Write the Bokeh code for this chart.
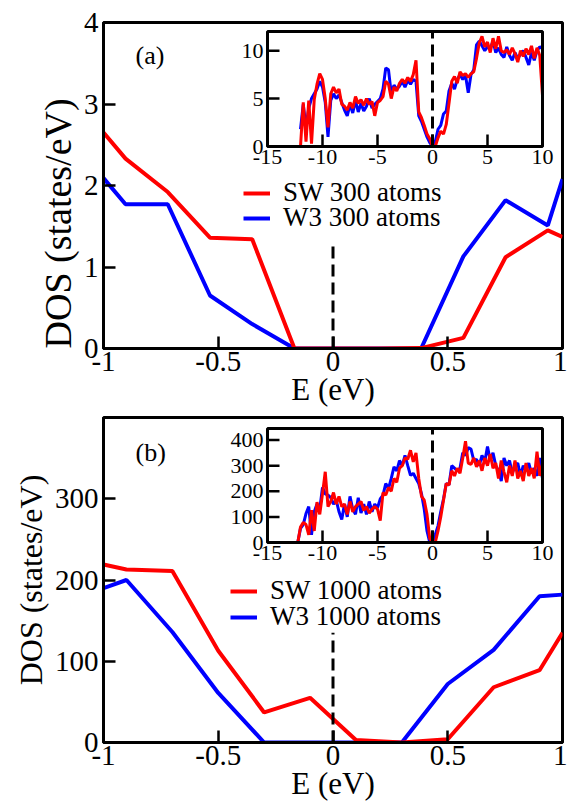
import numpy as np
from bokeh.plotting import figure
from bokeh.models import Range1d, Legend, LegendItem, Label, FixedTicker, Title
from bokeh.layouts import column
from bokeh.embed import file_html
from bokeh.resources import INLINE
from bokeh.core.properties import value

FONT = "Liberation Serif"
RED = "#ff0000"
BLUE = "#0000ff"

# ---------------- data: panel (a) main ----------------
a_energy = [-1.0, -0.904, -0.720, -0.536, -0.352, -0.168, 0.016, 0.200, 0.384, 0.568, 0.752, 0.936, 1.0]
a_sw_dos = [2.65, 2.33, 1.92, 1.36, 1.34, 0.0, 0.0, 0.0, 0.005, 0.13, 1.12, 1.45, 1.37]
a_w3_dos = [2.09, 1.77, 1.77, 0.65, 0.30, 0.0, 0.0, 0.0, 0.0, 1.13, 1.82, 1.51, 2.08]
a_fermi_dos = [0.0, 1.29]

# ---------------- data: panel (b) main ----------------
b_energy = [-1.0, -0.9, -0.7, -0.5, -0.3, -0.1, 0.1, 0.3, 0.5, 0.7, 0.9, 1.0]
b_sw_dos = [219, 213, 211, 113, 37, 55, 3, 0, 4, 68, 89, 135]
b_w3_dos = [190, 200, 136, 61, 0, 0, 0, 0, 72, 114, 180, 182]
b_fermi_dos = [0.0, 135]

fermi_e = [0.0, 0.0]

# ---------------- data: inset (a) ----------------
ia_energy = np.arange(-12.0, 10.001, 0.25)
ia_sw = [0.0, 4.6, 0.5, 4.8, 0.3, 4.9, 6.5, 7.6, 7.0, 5.0,
         2.0, 5.5, 6.2, 5.6, 6.0, 4.4, 4.2, 3.8, 4.6, 4.0,
         5.2, 4.5, 4.9, 4.3, 5.0, 4.4, 4.7, 3.2, 4.6, 4.8,
         5.2, 6.8, 6.5, 5.0, 6.2, 5.8, 6.6, 7.0, 6.6, 7.2,
         6.8, 7.5, 9.0, 3.6, 3.0, 2.2, 1.3, 0.8, 0.0, 0.0,
         0.9, 1.6, 1.3, 2.3, 4.5, 6.8, 7.3, 6.6, 7.8, 7.4,
         7.6, 7.2, 7.6, 7.8, 9.2, 10.8, 11.5, 10.4, 10.9, 9.8,
         11.3, 10.2, 11.5, 10.0, 9.8, 10.1, 9.6, 10.3, 9.7, 8.8,
         10.0, 9.4, 10.2, 9.6, 10.5, 9.2, 10.3, 9.5, 5.3]
ia_w3 = [1.8, 4.4, 2.0, 4.0, 5.0, 5.5, 6.0, 6.8, 6.2, 4.6,
         1.0, 4.8, 5.5, 5.0, 5.4, 4.6, 3.8, 3.2, 4.4, 3.5,
         4.8, 3.6, 4.5, 3.7, 4.2, 5.0, 4.0, 4.4, 4.7, 5.0,
         6.0, 8.2, 8.0, 5.5, 6.4, 6.0, 6.3, 6.8, 6.2, 6.9,
         6.5, 7.0, 6.8, 3.2, 2.6, 1.8, 1.0, 0.4, 0.0, 0.5,
         1.8, 2.2, 3.4, 3.7, 5.8, 6.6, 6.0, 7.0, 7.5, 7.0,
         7.4, 5.6, 7.5, 8.0, 10.6, 11.0, 10.5, 10.0, 10.4, 10.2,
         11.0, 9.8, 10.3, 9.6, 9.3, 10.4, 9.5, 9.0, 9.8, 9.2,
         9.6, 10.0, 9.3, 8.5, 9.8, 9.0, 10.0, 10.4, 10.2]
ia_xlim = [-15, 10]
ia_ylim = [0, 12]
ia_xticks = [-15, -10, -5, 0, 5, 10]
ia_xlabels = ["-15", "-10", "-5", "0", "5", "10"]
ia_yticks = [0, 5, 10]
ia_ylabels = ["0", "5", "10"]

# ---------------- data: inset (b) ----------------
ib_energy = np.arange(-12.25, 10.001, 0.25)
ib_sw = [0, 60, 78, 70, 30, 126, 45, 158, 110, 190,
         276, 140, 160, 195, 150, 180, 140, 150, 110, 160,
         120, 140, 150, 160, 125, 140, 115, 130, 140, 130,
         85, 195, 185, 215, 200, 250, 235, 290, 300, 330,
         325, 360, 315, 350, 250, 180, 165, 110, 15, 0,
         0, 45, 100, 165, 230, 225, 280, 260, 290, 270,
         330, 395, 310, 305, 330, 295, 320, 280, 330, 300,
         345, 290, 310, 250, 320, 275, 235, 300, 260, 320,
         250, 280, 240, 310, 260, 290, 250, 355, 260, 310]
ib_w3 = [0, 55, 70, 113, 140, 30, 120, 150, 130, 215,
         190, 185, 175, 150, 165, 120, 90, 150, 100, 180,
         130, 110, 175, 115, 150, 110, 160, 120, 150, 135,
         170, 185, 230, 210, 250, 295, 280, 320, 300, 340,
         300, 262, 270, 250, 230, 190, 130, 45, 0, 0,
         30, 65, 120, 170, 230, 225, 300, 290, 280, 290,
         350, 340, 370, 365, 320, 325, 300, 340, 315, 375,
         320, 350, 300, 280, 240, 330, 300, 320, 270, 300,
         310, 260, 300, 280, 310, 270, 290, 260, 330, 250]
ib_xlim = [-15, 10]
ib_ylim = [0, 445]
ib_xticks = [-15, -10, -5, 0, 5, 10]
ib_xlabels = ["-15", "-10", "-5", "0", "5", "10"]
ib_yticks = [0, 100, 200, 300, 400]
ib_ylabels = ["0", "100", "200", "300", "400"]

main_xticks = [-1, -0.5, 0, 0.5, 1]
main_xlabels = ["-1", "-0.5", "0", "0.5", "1"]
a_yticks = [0, 1, 2, 3, 4]
b_yticks = [0, 100, 200, 300]

x_title = "E (eV)"
y_title = "DOS (states/eV)"

# ---------------- layout constants ----------------
FRAME_W = 459
LEFT = 103
RIGHT = 5


def base_fig(frame_h, top, bottom, yr, yticks):
    p = figure(frame_width=FRAME_W, frame_height=frame_h,
               x_range=Range1d(-1, 1), y_range=Range1d(*yr),
               output_backend="svg", toolbar_location=None,
               min_border_left=LEFT, min_border_right=RIGHT,
               min_border_top=top, min_border_bottom=bottom)
    p.grid.visible = False
    p.background_fill_color = "white"
    p.border_fill_color = "white"
    p.outline_line_color = "black"
    p.outline_line_width = 3
    p.outline_line_alpha = 1.0
    for ax in (p.xaxis[0], p.yaxis[0]):
        ax.axis_line_width = 3
        ax.axis_line_color = "black"
        ax.major_tick_in = 12
        ax.major_tick_out = 0
        ax.major_tick_line_width = 2.5
        ax.major_tick_line_color = "black"
        ax.minor_tick_line_color = None
        ax.major_label_text_font = FONT
        ax.major_label_text_font_size = "29px"
        ax.major_label_text_color = "black"
    xa = p.xaxis[0]
    xa.ticker = FixedTicker(ticks=main_xticks)
    xa.major_label_overrides = {float(t): s for t, s in zip(main_xticks, main_xlabels)}
    xa.major_label_standoff = 3
    ya = p.yaxis[0]
    ya.ticker = FixedTicker(ticks=yticks)
    ya.major_label_standoff = 5
    return p


def add_titles(p, ysize, ystand, yalign, yoff, xstand):
    p.add_layout(Title(text=y_title, align=yalign, offset=yoff, standoff=ystand,
                       text_font=FONT, text_font_size=ysize, text_font_style="normal",
                       text_color="black"), "left")
    p.add_layout(Title(text=x_title, align="center", standoff=xstand,
                       text_font=FONT, text_font_size="31px", text_font_style="normal",
                       text_color="black"), "below")


def add_inset(p, frame_h, fl, ft, iw, ih, xlim, ylim, xticks, xlabels, yticks, ylabels,
              energy, sw, w3):
    dx = (xlim[1] - xlim[0]) / iw
    dy = (ylim[1] - ylim[0]) / ih
    p.extra_x_ranges = {"ix": Range1d(xlim[0] - fl * dx, xlim[1] + (FRAME_W - fl - iw) * dx)}
    p.extra_y_ranges = {"iy": Range1d(ylim[0] - (frame_h - ft - ih) * dy, ylim[1] + ft * dy)}
    kw = dict(x_range_name="ix", y_range_name="iy")
    p.quad(left=[xlim[0]], right=[xlim[1]], bottom=[ylim[0]], top=[ylim[1]],
           fill_color="white", line_color=None, **kw)
    p.line(energy, w3, line_color=BLUE, line_width=3, **kw)
    p.line(energy, sw, line_color=RED, line_width=3, **kw)
    p.line([0, 0], [ylim[0], ylim[1]], line_color="black", line_width=3, line_dash="12 6", **kw)
    p.quad(left=[xlim[0]], right=[xlim[1]], bottom=[ylim[0]], top=[ylim[1]],
           fill_color=None, line_color="black", line_width=3, **kw)
    tl = 12
    p.segment(x0=xticks, y0=[ylim[0]] * len(xticks), x1=xticks, y1=[ylim[0] + tl * dy] * len(xticks),
              line_color="black", line_width=2.5, **kw)
    p.segment(x0=[xlim[0]] * len(yticks), y0=yticks, x1=[xlim[0] + tl * dx] * len(yticks), y1=yticks,
              line_color="black", line_width=2.5, **kw)
    p.text(x=xticks, y=[ylim[0]] * len(xticks), text=xlabels, text_font=value(FONT),
           text_font_size="22px", text_align="center", text_baseline="top",
           y_offset=3, text_color="black", **kw)
    p.text(x=[xlim[0]] * len(yticks), y=yticks, text=ylabels, text_font=value(FONT),
           text_font_size="22px", text_align="right", text_baseline="middle",
           x_offset=-4, text_color="black", **kw)


def add_legend(p, r, label, loc):
    lg = Legend(items=[LegendItem(label=label, renderers=[r])], location=loc,
                glyph_width=27, glyph_height=24, label_height=24, label_standoff=13,
                padding=0, margin=0, spacing=0, border_line_alpha=0,
                background_fill_alpha=0, label_text_font=FONT,
                label_text_font_size="27px", label_text_color="black")
    p.add_layout(lg)


def add_tag(p, y_top, tag, dy):
    p.add_layout(Label(x=-1, y=y_top, x_offset=32, y_offset=dy, text=tag,
                       text_align="left", text_baseline="middle",
                       text_font=FONT, text_font_size="26px", text_color="black"))


# ---------------- panel (a) ----------------
A_H = 326
pa = base_fig(A_H, 22, 62, (0, 4), a_yticks)
add_titles(pa, "38px", 4, "left", 0, -7)
add_inset(pa, A_H, 164, 9, 275, 115, ia_xlim, ia_ylim, ia_xticks, ia_xlabels,
          ia_yticks, ia_ylabels, ia_energy, ia_sw, ia_w3)
rb = pa.line(a_energy, a_w3_dos, line_color=BLUE, line_width=4)
rr = pa.line(a_energy, a_sw_dos, line_color=RED, line_width=4)
pa.line(fermi_e, a_fermi_dos, line_color="black", line_width=3, line_dash="12 6")
add_legend(pa, rr, "SW 300 atoms", (140, 140))
add_legend(pa, rb, "W3 300 atoms", (140, 115))
add_tag(pa, 4, "(a)", -33)

# ---------------- panel (b) ----------------
B_H = 325
pb = base_fig(B_H, 7, 62, (0, 400), b_yticks)
add_titles(pb, "32px", 5, "center", 0, -7)
add_inset(pb, B_H, 164, 11, 275, 114, ib_xlim, ib_ylim, ib_xticks, ib_xlabels,
          ib_yticks, ib_ylabels, ib_energy, ib_sw, ib_w3)
rb2 = pb.line(b_energy, b_w3_dos, line_color=BLUE, line_width=4)
rr2 = pb.line(b_energy, b_sw_dos, line_color=RED, line_width=4)
pb.line(fermi_e, b_fermi_dos, line_color="black", line_width=3, line_dash="12 6")
add_legend(pb, rr2, "SW 1000 atoms", (127, 136))
add_legend(pb, rb2, "W3 1000 atoms", (127, 110))
add_tag(pb, 400, "(b)", -35)

layout = column(pa, pb, spacing=0)
open("out.html", "w").write(file_html(layout, INLINE))
